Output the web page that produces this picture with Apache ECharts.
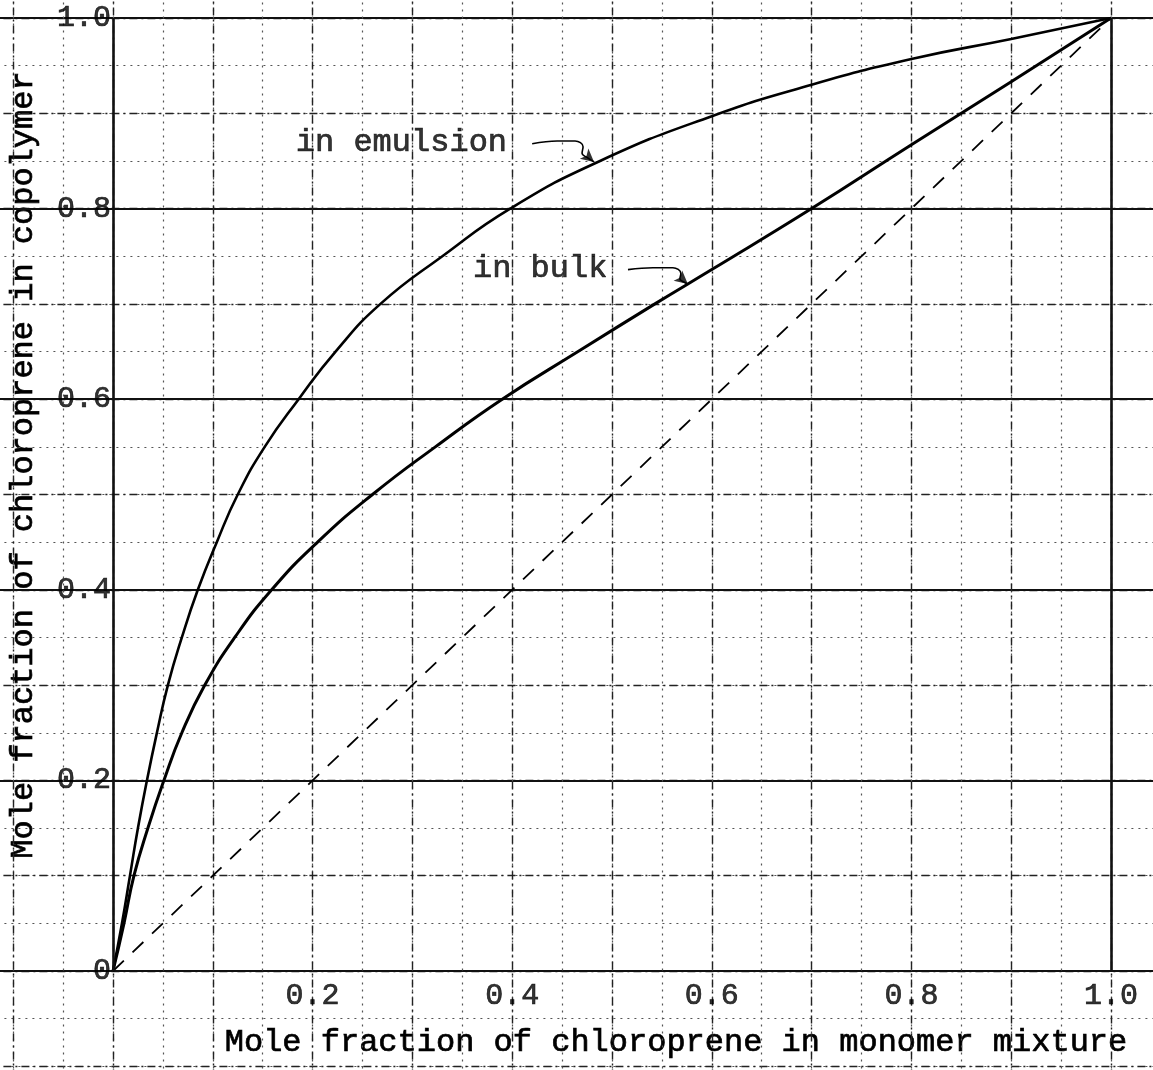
<!DOCTYPE html>
<html>
<head>
<meta charset="utf-8">
<script src="https://cdn.jsdelivr.net/npm/echarts@6/dist/echarts.min.js"></script>
<style>
html, body { margin: 0; padding: 0; background: #ffffff; }
#chart { width: 1153px; height: 1070px; }
</style>
</head>
<body>
<div id="chart"></div>
<script>
// ---------------- data ----------------
const xTickValues = [0.2, 0.4, 0.6, 0.8, 1.0];
const xTickLabels = ['0.2', '0.4', '0.6', '0.8', '1.0'];
const yTickValues = [0, 0.2, 0.4, 0.6, 0.8, 1.0];
const yTickLabels = ['0', '0.2', '0.4', '0.6', '0.8', '1.0'];

const xTitle = 'Mole fraction of chloroprene in monomer mixture';
const yTitle = 'Mole fraction of chloroprene in copolymer';

// copolymer composition in emulsion
const emulsionX = [0, 0.009, 0.017, 0.025, 0.034, 0.044, 0.055, 0.069, 0.085, 0.104, 0.125, 0.152, 0.186, 0.223, 0.268, 0.330, 0.398, 0.488, 0.600, 0.700, 0.800, 0.900, 1.000];
const emulsionY = [0, 0.05, 0.10, 0.15, 0.20, 0.25, 0.30, 0.35, 0.40, 0.45, 0.50, 0.55, 0.60, 0.65, 0.70, 0.75, 0.80, 0.85, 0.897, 0.930, 0.957, 0.978, 1.000];

// copolymer composition in bulk
const bulkX = [0, 0.011, 0.021, 0.035, 0.051, 0.069, 0.092, 0.122, 0.159, 0.205, 0.260, 0.323, 0.390, 0.466, 0.543, 0.600, 0.700, 0.800, 0.900, 1.000];
const bulkY = [0, 0.05, 0.10, 0.15, 0.20, 0.25, 0.30, 0.35, 0.40, 0.45, 0.50, 0.55, 0.60, 0.65, 0.70, 0.736, 0.800, 0.867, 0.933, 1.000];

// ideal (azeotropic) reference line
const diagonalX = [0, 1];
const diagonalY = [0, 1];

// annotations (data coordinates)
const annotationNames = ['in emulsion', 'in bulk'];
const annotationX = [0.289, 0.428];
const annotationY = [0.869, 0.737];
const emulsionArrowX = [0.420, 0.445, 0.463, 0.471, 0.470, 0.476, 0.482];
const emulsionArrowY = [0.868, 0.871, 0.871, 0.865, 0.858, 0.853, 0.849];
const bulkArrowX = [0.516, 0.541, 0.561, 0.569, 0.568, 0.572, 0.576];
const bulkArrowY = [0.736, 0.738, 0.738, 0.732, 0.726, 0.723, 0.721];

// ---------------- chart ----------------
const zip = (xs, ys) => xs.map((x, i) => [x, ys[i]]);
const FONT = '"Liberation Mono", "DejaVu Sans Mono", monospace';
const INK = '#111111';
const textStyle = (size) => ({
  color: '#000', fontFamily: FONT, fontSize: size,
  textBorderColor: '#000', textBorderWidth: 0.7
});

// layout: x=0 at 113px, x=1 at 1111px; y=0 at 971px, y=1 at 18px
const X0 = 113, XS = 998, Y0 = 971, YS = 953;

const hiddenAxis = {
  axisLine: { show: false },
  axisTick: { show: false },
  axisLabel: { show: false }
};

const chart = echarts.init(document.getElementById('chart'), null, { renderer: 'canvas' });

chart.setOption({
  animation: false,
  backgroundColor: '#ffffff',
  grid: {
    left: X0 - 0.2 * XS,
    top: Y0 - 1.2 * YS,
    width: 1.4 * XS,
    height: 1.4 * YS,
    containLabel: false,
    outerBoundsMode: 'none'
  },
  xAxis: [
    Object.assign({
      type: 'value', min: -0.2, max: 1.2, interval: 0.05,
      splitLine: { show: true, lineStyle: { color: '#555', width: 1.2, type: [2, 5] } }
    }, hiddenAxis),
    Object.assign({
      type: 'value', min: -0.2, max: 1.2, interval: 0.1, position: 'top',
      splitLine: { show: true, lineStyle: { color: '#222', width: 1.4, type: [8, 4, 2, 4] } }
    }, hiddenAxis)
  ],
  yAxis: [
    Object.assign({
      type: 'value', min: -0.2, max: 1.2, interval: 0.05,
      splitLine: { show: true, lineStyle: { color: '#555', width: 1.2, type: [2, 5] } }
    }, hiddenAxis),
    Object.assign({
      type: 'value', min: -0.2, max: 1.2, interval: 0.1, position: 'right',
      splitLine: { show: true, lineStyle: { color: '#222', width: 1.4, type: [8, 4, 2, 4] } }
    }, hiddenAxis),
    Object.assign({
      type: 'value', min: -0.2, max: 1.2, interval: 0.2, position: 'right',
      splitLine: { show: true, lineStyle: { color: INK, width: 2.2, type: 'solid' } }
    }, hiddenAxis)
  ],
  graphic: [
    {
      type: 'text', x: 676, y: 1043,
      style: { text: xTitle, font: '32px ' + FONT, fill: '#000', stroke: '#000', lineWidth: 0.7,
               align: 'center', verticalAlign: 'middle' }
    },
    {
      type: 'text', x: 24, y: 465, rotation: Math.PI / 2,
      style: { text: yTitle, font: '32px ' + FONT, fill: '#000', stroke: '#000', lineWidth: 0.7,
               align: 'center', verticalAlign: 'middle' }
    }
  ],
  series: [
    {
      name: 'equal composition', type: 'line', silent: true,
      data: zip(diagonalX, diagonalY), symbol: 'none',
      lineStyle: { color: '#000', width: 1.8, type: [15, 12] },
      markLine: {
        silent: true, symbol: 'none', label: { show: false },
        lineStyle: { color: INK, width: 2.6, type: 'solid' },
        data: [
          [{ coord: [0, 0] }, { coord: [0, 1] }],
          [{ coord: [1, 0] }, { coord: [1, 1] }]
        ]
      }
    },
    {
      name: 'in emulsion', type: 'line', silent: true,
      data: zip(emulsionX, emulsionY), symbol: 'none',
      smooth: 0.5,
      lineStyle: { color: '#000', width: 2.6 }
    },
    {
      name: 'in bulk', type: 'line', silent: true,
      data: zip(bulkX, bulkY), symbol: 'none',
      smooth: 0.5,
      lineStyle: { color: '#000', width: 3 }
    },
    {
      name: 'emulsion arrow', type: 'line', silent: true,
      data: zip(emulsionArrowX, emulsionArrowY), symbol: 'none', smooth: 0.4,
      lineStyle: { color: '#000', width: 1.6 }
    },
    {
      name: 'bulk arrow', type: 'line', silent: true,
      data: zip(bulkArrowX, bulkArrowY), symbol: 'none', smooth: 0.4,
      lineStyle: { color: '#000', width: 1.6 }
    },
    {
      name: 'arrow heads', type: 'scatter', silent: true,
      data: [
        [emulsionArrowX[emulsionArrowX.length - 1], emulsionArrowY[emulsionArrowY.length - 1]],
        [bulkArrowX[bulkArrowX.length - 1], bulkArrowY[bulkArrowY.length - 1]]
      ],
      symbol: 'arrow', symbolSize: [10, 13], symbolRotate: -130,
      itemStyle: { color: '#000' }
    },
    {
      name: 'annotations', type: 'scatter', silent: true,
      data: annotationNames.map((n, i) => ({ name: n, value: [annotationX[i], annotationY[i]] })),
      symbolSize: 0,
      label: Object.assign({ show: true, position: 'inside', formatter: '{b}' }, textStyle(32))
    },
    {
      name: 'x tick labels', type: 'scatter', silent: true,
      data: xTickValues.map((v, i) => ({ name: xTickLabels[i], value: [v, 0] })),
      symbolSize: 0,
      label: Object.assign({ show: true, position: 'bottom', distance: 10, formatter: '{b}' }, textStyle(30))
    },
    {
      name: 'y tick labels', type: 'scatter', silent: true,
      data: yTickValues.map((v, i) => ({ name: yTickLabels[i], value: [0, v] })),
      symbolSize: 0,
      label: Object.assign({ show: true, position: 'left', distance: 2, formatter: '{b}' }, textStyle(30))
    }
  ]
});
</script>
</body>
</html>
